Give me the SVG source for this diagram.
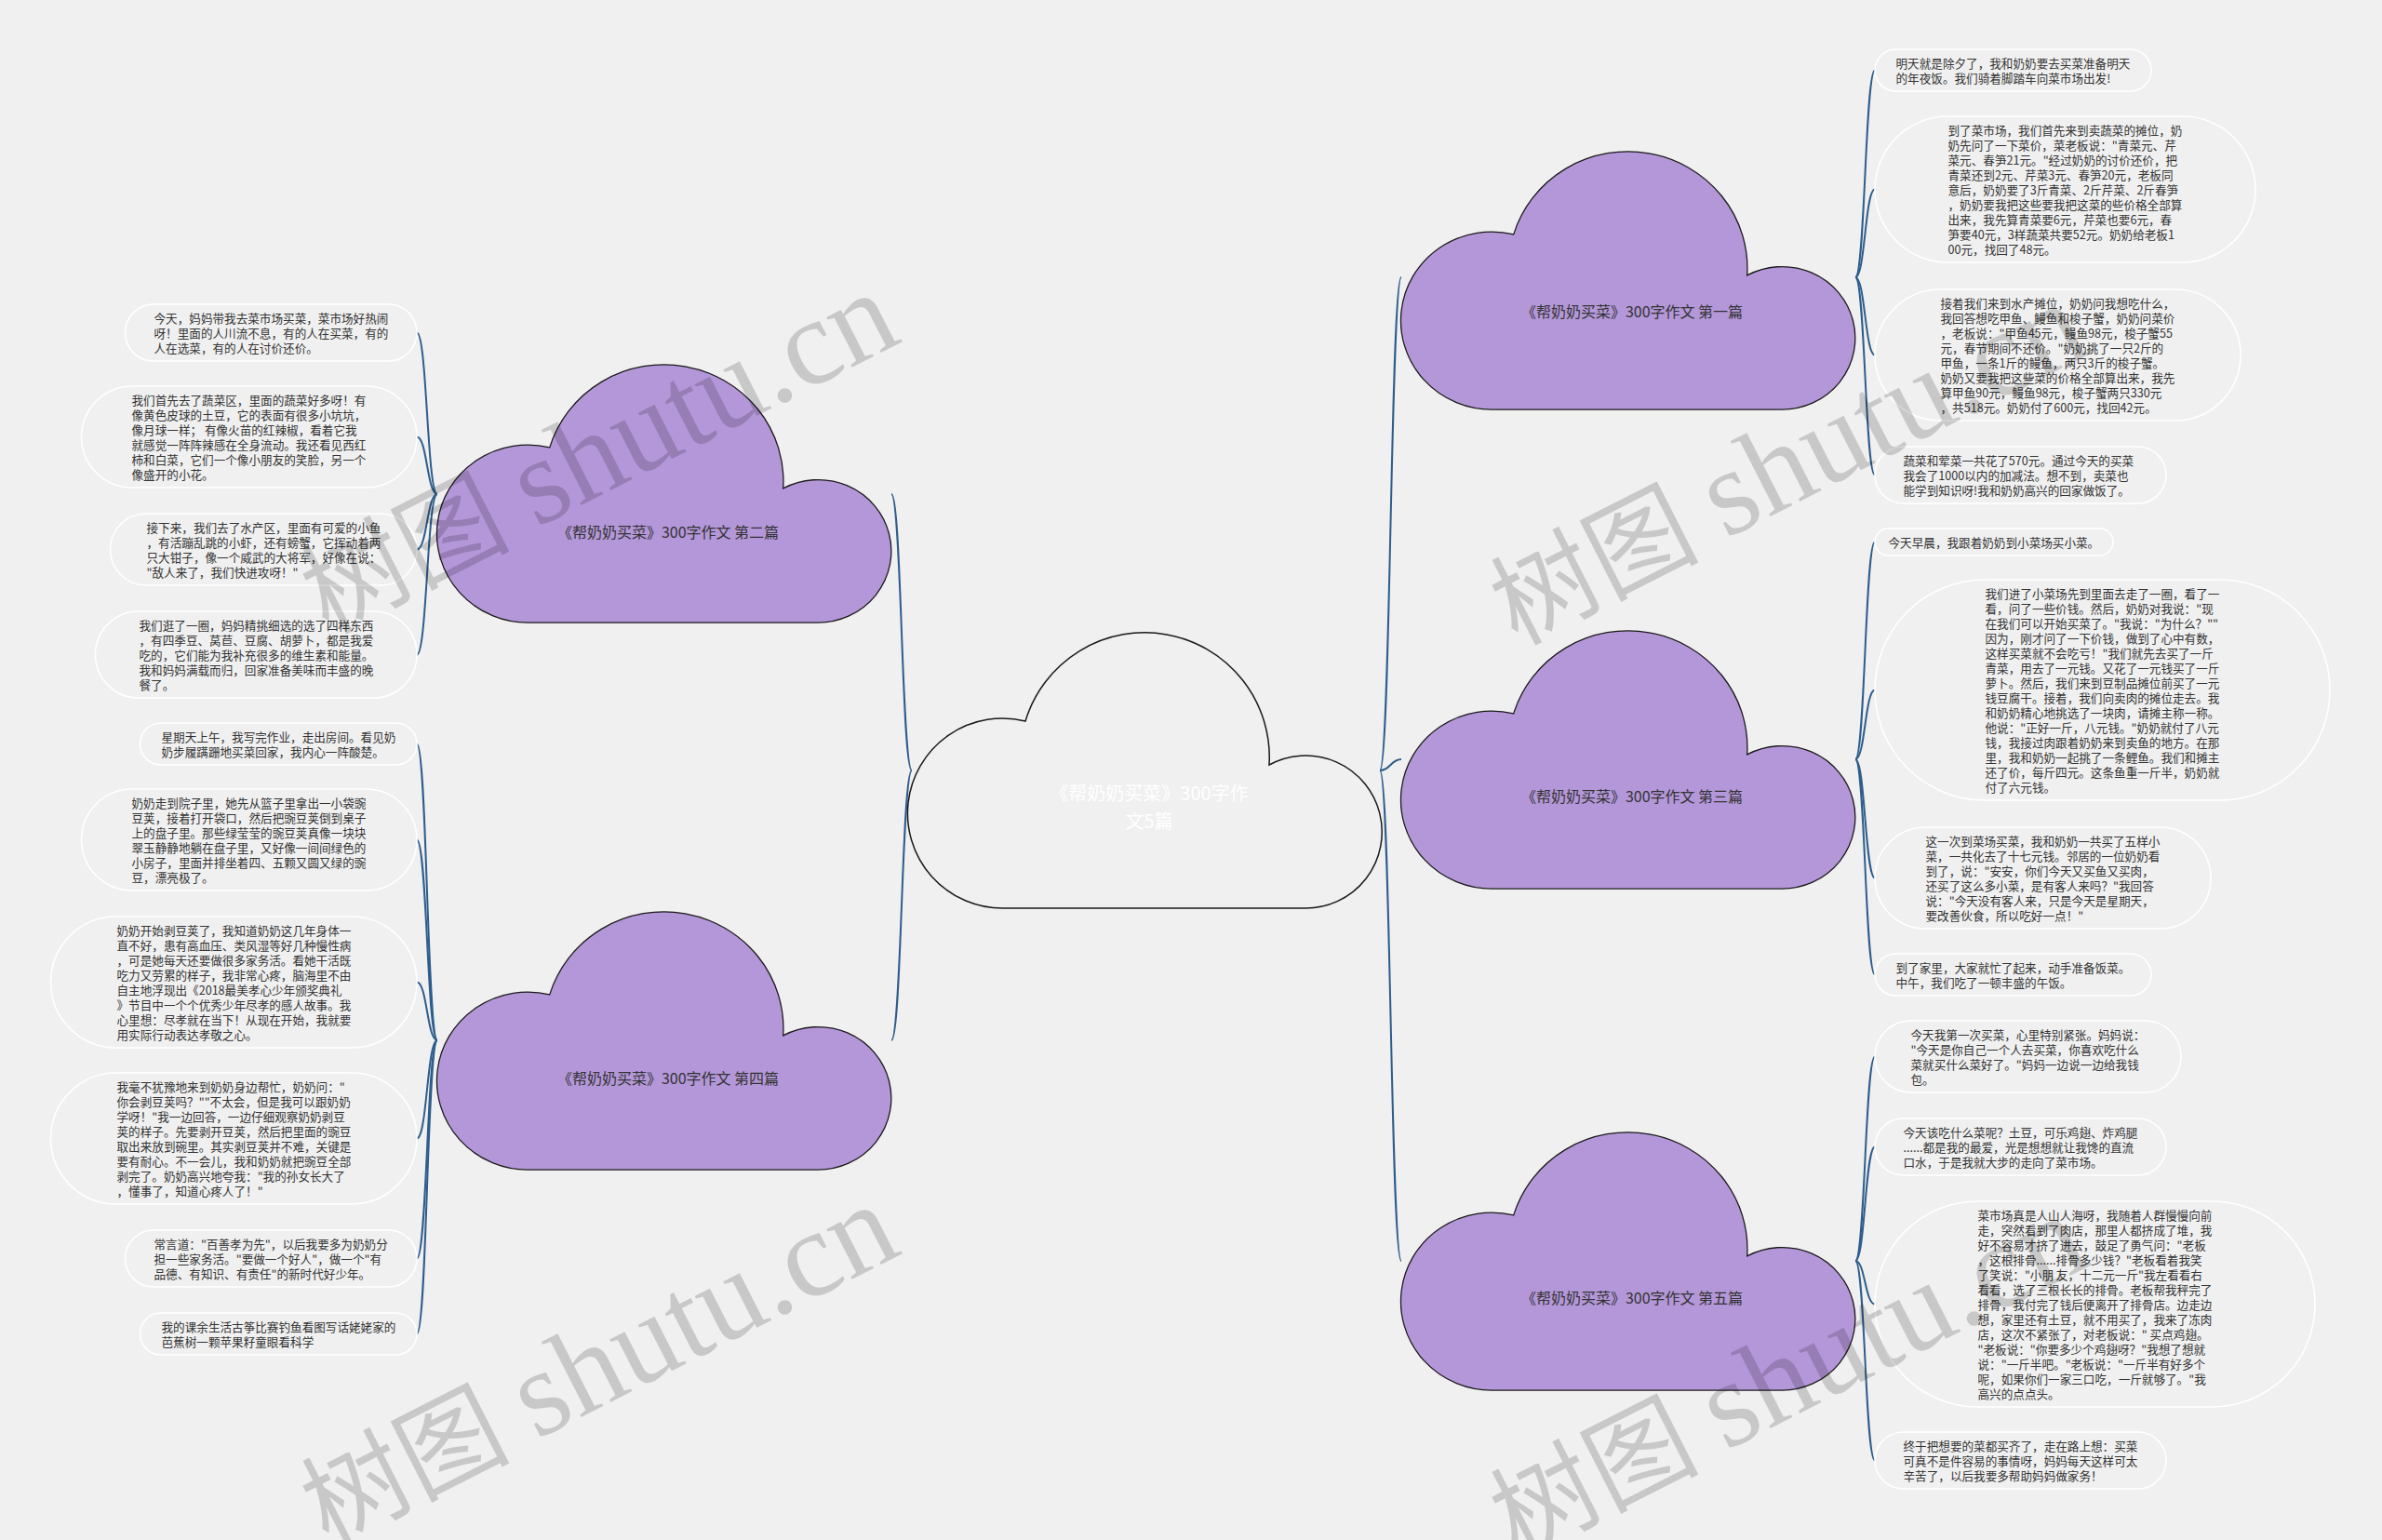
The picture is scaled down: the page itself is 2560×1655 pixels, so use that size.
<svg xmlns="http://www.w3.org/2000/svg" width="2560" height="1655" viewBox="0 0 2560 1655">
<style>
.bub{fill:none;stroke:#ffffff;stroke-width:1.6}
.t{font-family:"Noto Sans CJK SC","Liberation Sans",sans-serif;font-size:12.6px;fill:#333333}
.lnk{fill:none;stroke:#2e5d8c;stroke-width:2}
.pc{fill:#b497d9;stroke:#1a1a1a;stroke-width:1.3}
.cc{fill:#f0f0f0;stroke:#1a1a1a;stroke-width:1.5}
.ct{font-family:"Noto Sans CJK SC","Liberation Sans",sans-serif;font-size:20px;fill:#ffffff;text-anchor:middle}
.pt{font-family:"Noto Sans CJK SC","Liberation Sans",sans-serif;font-size:16px;fill:#333333;text-anchor:middle}
.wm{font-family:"Liberation Serif","Noto Sans CJK SC",serif;font-size:112px;fill:#000000;opacity:0.16}
.wl{font-size:132px}
</style>
<defs>
<path id="cloud" d="M102,296 A102,102 0 1 1 126,95 A134,134 0 0 1 388,142 A82,82 0 1 1 427,296 Z" vector-effect="non-scaling-stroke"/>
</defs>
<rect x="0" y="0" width="2560" height="1655" fill="#f0f0f0"/>

<g id="connectors">
<path class="lnk" d="M980,828 C969,828 969,531 958,531"/>
<path class="lnk" d="M980,828 C969,828 969,1118 958,1118"/>
<path class="lnk" d="M1483,828 C1494.5,828 1494.5,298 1506,298"/>
<path class="lnk" d="M1483,828 C1494.5,828 1494.5,816 1506,816"/>
<path class="lnk" d="M1483,828 C1494.5,828 1494.5,1355 1506,1355"/>
<path class="lnk" d="M470,531 C459,531 459,357.5 448,357.5"/>
<path class="lnk" d="M470,531 C459,531 459,469.5 448,469.5"/>
<path class="lnk" d="M470,531 C459,531 459,590.5 448,590.5"/>
<path class="lnk" d="M470,531 C459,531 459,703.5 448,703.5"/>
<path class="lnk" d="M470,1118 C459,1118 459,799.5 448,799.5"/>
<path class="lnk" d="M470,1118 C459,1118 459,902.5 448,902.5"/>
<path class="lnk" d="M470,1118 C459,1118 459,1055.5 448,1055.5"/>
<path class="lnk" d="M470,1118 C459,1118 459,1223.5 448,1223.5"/>
<path class="lnk" d="M470,1118 C459,1118 459,1352.5 448,1352.5"/>
<path class="lnk" d="M470,1118 C459,1118 459,1433.5 448,1433.5"/>
<path class="lnk" d="M1994,298 C2004.5,298 2004.5,75.5 2015,75.5"/>
<path class="lnk" d="M1994,298 C2004.5,298 2004.5,203.5 2015,203.5"/>
<path class="lnk" d="M1994,298 C2004.5,298 2004.5,381.5 2015,381.5"/>
<path class="lnk" d="M1994,298 C2004.5,298 2004.5,510.5 2015,510.5"/>
<path class="lnk" d="M1994,816 C2004.5,816 2004.5,582.5 2015,582.5"/>
<path class="lnk" d="M1994,816 C2004.5,816 2004.5,741.5 2015,741.5"/>
<path class="lnk" d="M1994,816 C2004.5,816 2004.5,943.5 2015,943.5"/>
<path class="lnk" d="M1994,816 C2004.5,816 2004.5,1047.5 2015,1047.5"/>
<path class="lnk" d="M1994,1355 C2004.5,1355 2004.5,1135.5 2015,1135.5"/>
<path class="lnk" d="M1994,1355 C2004.5,1355 2004.5,1232.5 2015,1232.5"/>
<path class="lnk" d="M1994,1355 C2004.5,1355 2004.5,1401.5 2015,1401.5"/>
<path class="lnk" d="M1994,1355 C2004.5,1355 2004.5,1569.5 2015,1569.5"/>
</g>

<g id="root">
<use href="#cloud" class="cc" transform="translate(976,680)"/>
<text class="ct" x="1235" y="860">《帮奶奶买菜》300字作</text>
<text class="ct" x="1235" y="890">文5篇</text>
</g>

<g id="n2">
<use href="#cloud" class="pc" transform="translate(470,392) scale(0.958,0.936)"/>
<text class="pt" x="718" y="578">《帮奶奶买菜》300字作文 第二篇</text>
</g>
<g id="n4">
<use href="#cloud" class="pc" transform="translate(470,980) scale(0.958,0.936)"/>
<text class="pt" x="718" y="1165">《帮奶奶买菜》300字作文 第四篇</text>
</g>
<g id="n1">
<use href="#cloud" class="pc" transform="translate(1506,163) scale(0.958,0.936)"/>
<text class="pt" x="1754" y="341">《帮奶奶买菜》300字作文 第一篇</text>
</g>
<g id="n3">
<use href="#cloud" class="pc" transform="translate(1506,678) scale(0.958,0.936)"/>
<text class="pt" x="1754" y="862">《帮奶奶买菜》300字作文 第三篇</text>
</g>
<g id="n5">
<use href="#cloud" class="pc" transform="translate(1506,1217) scale(0.958,0.936)"/>
<text class="pt" x="1754" y="1401">《帮奶奶买菜》300字作文 第五篇</text>
</g>

<g id="a1"><rect class="bub" x="134.5" y="327" width="313.5" height="61" rx="30.5" ry="30.5"/>
<text class="t" y="346.5"><tspan x="165.5">今天，妈妈带我去菜市场买菜，菜市场好热闹</tspan><tspan x="165.5" dy="16">呀！里面的人川流不息，有的人在买菜，有的</tspan><tspan x="165.5" dy="16">人在选菜，有的人在讨价还价。</tspan></text></g>

<g id="a2"><rect class="bub" x="87.5" y="415" width="360.5" height="109" rx="54.5" ry="54.5"/>
<text class="t" y="434.5"><tspan x="141.5">我们首先去了蔬菜区，里面的蔬菜好多呀！有</tspan><tspan x="141.5" dy="16">像黄色皮球的土豆，它的表面有很多小坑坑，</tspan><tspan x="141.5" dy="16">像月球一样； 有像火苗的红辣椒，看着它我</tspan><tspan x="141.5" dy="16">就感觉一阵阵辣感在全身流动。我还看见西红</tspan><tspan x="141.5" dy="16">柿和白菜，它们一个像小朋友的笑脸，另一个</tspan><tspan x="141.5" dy="16">像盛开的小花。</tspan></text></g>

<g id="a3"><rect class="bub" x="118.5" y="552" width="329.5" height="77" rx="38.5" ry="38.5"/>
<text class="t" y="571.5"><tspan x="157.5">接下来，我们去了水产区，里面有可爱的小鱼</tspan><tspan x="157.5" dy="16">，有活蹦乱跳的小虾，还有螃蟹，它挥动着两</tspan><tspan x="157.5" dy="16">只大钳子，像一个威武的大将军，好像在说：</tspan><tspan x="157.5" dy="16">"敌人来了，我们快进攻呀！"</tspan></text></g>

<g id="a4"><rect class="bub" x="102.5" y="657" width="345.5" height="93" rx="46.5" ry="46.5"/>
<text class="t" y="676.5"><tspan x="149.5">我们逛了一圈，妈妈精挑细选的选了四样东西</tspan><tspan x="149.5" dy="16">，有四季豆、莴苣、豆腐、胡萝卜，都是我爱</tspan><tspan x="149.5" dy="16">吃的，它们能为我补充很多的维生素和能量。</tspan><tspan x="149.5" dy="16">我和妈妈满载而归，回家准备美味而丰盛的晚</tspan><tspan x="149.5" dy="16">餐了。</tspan></text></g>

<g id="a5"><rect class="bub" x="150.5" y="777" width="297.5" height="45" rx="22.5" ry="22.5"/>
<text class="t" y="796.5"><tspan x="173.5">星期天上午，我写完作业，走出房间。看见奶</tspan><tspan x="173.5" dy="16">奶步履蹒跚地买菜回家，我内心一阵酸楚。</tspan></text></g>

<g id="a6"><rect class="bub" x="87.5" y="848" width="360.5" height="109" rx="54.5" ry="54.5"/>
<text class="t" y="867.5"><tspan x="141.5">奶奶走到院子里，她先从篮子里拿出一小袋豌</tspan><tspan x="141.5" dy="16">豆荚，接着打开袋口，然后把豌豆荚倒到桌子</tspan><tspan x="141.5" dy="16">上的盘子里。那些绿莹莹的豌豆荚真像一块块</tspan><tspan x="141.5" dy="16">翠玉静静地躺在盘子里，又好像一间间绿色的</tspan><tspan x="141.5" dy="16">小房子，里面并排坐着四、五颗又圆又绿的豌</tspan><tspan x="141.5" dy="16">豆，漂亮极了。</tspan></text></g>

<g id="a7"><rect class="bub" x="54.5" y="985" width="393.5" height="141" rx="70.5" ry="70.5"/>
<text class="t" y="1004.5"><tspan x="125.5">奶奶开始剥豆荚了，我知道奶奶这几年身体一</tspan><tspan x="125.5" dy="16">直不好，患有高血压、类风湿等好几种慢性病</tspan><tspan x="125.5" dy="16">，可是她每天还要做很多家务活。看她干活既</tspan><tspan x="125.5" dy="16">吃力又劳累的样子，我非常心疼，脑海里不由</tspan><tspan x="125.5" dy="16">自主地浮现出《2018最美孝心少年颁奖典礼</tspan><tspan x="125.5" dy="16">》节目中一个个优秀少年尽孝的感人故事。我</tspan><tspan x="125.5" dy="16">心里想：尽孝就在当下！从现在开始，我就要</tspan><tspan x="125.5" dy="16">用实际行动表达孝敬之心。</tspan></text></g>

<g id="a8"><rect class="bub" x="54.5" y="1153" width="393.5" height="141" rx="70.5" ry="70.5"/>
<text class="t" y="1172.5"><tspan x="125.5">我毫不犹豫地来到奶奶身边帮忙，奶奶问："</tspan><tspan x="125.5" dy="16">你会剥豆荚吗？""不太会，但是我可以跟奶奶</tspan><tspan x="125.5" dy="16">学呀！"我一边回答，一边仔细观察奶奶剥豆</tspan><tspan x="125.5" dy="16">荚的样子。先要剥开豆荚，然后把里面的豌豆</tspan><tspan x="125.5" dy="16">取出来放到碗里。其实剥豆荚并不难，关键是</tspan><tspan x="125.5" dy="16">要有耐心。不一会儿，我和奶奶就把豌豆全部</tspan><tspan x="125.5" dy="16">剥完了。奶奶高兴地夸我："我的孙女长大了</tspan><tspan x="125.5" dy="16">，懂事了，知道心疼人了！"</tspan></text></g>

<g id="a9"><rect class="bub" x="134.5" y="1322" width="313.5" height="61" rx="30.5" ry="30.5"/>
<text class="t" y="1341.5"><tspan x="165.5">常言道："百善孝为先"，以后我要多为奶奶分</tspan><tspan x="165.5" dy="16">担一些家务活。"要做一个好人"，做一个"有</tspan><tspan x="165.5" dy="16">品德、有知识、有责任"的新时代好少年。</tspan></text></g>

<g id="a10"><rect class="bub" x="150.5" y="1411" width="297.5" height="45" rx="22.5" ry="22.5"/>
<text class="t" y="1430.5"><tspan x="173.5">我的课余生活古筝比赛钓鱼看图写话姥姥家的</tspan><tspan x="173.5" dy="16">芭蕉树一颗苹果籽童眼看科学</tspan></text></g>

<g id="b1"><rect class="bub" x="2015" y="53" width="297" height="45" rx="22.5" ry="22.5"/>
<text class="t" y="72.5"><tspan x="2037.5">明天就是除夕了，我和奶奶要去买菜准备明天</tspan><tspan x="2037.5" dy="16">的年夜饭。我们骑着脚踏车向菜市场出发!</tspan></text></g>

<g id="b2"><rect class="bub" x="2015" y="125" width="409" height="157" rx="78.5" ry="78.5"/>
<text class="t" y="144.5"><tspan x="2093.5">到了菜市场，我们首先来到卖蔬菜的摊位，奶</tspan><tspan x="2093.5" dy="16">奶先问了一下菜价，菜老板说："青菜元、芹</tspan><tspan x="2093.5" dy="16">菜元、春笋21元。"经过奶奶的讨价还价，把</tspan><tspan x="2093.5" dy="16">青菜还到2元、芹菜3元、春笋20元，老板同</tspan><tspan x="2093.5" dy="16">意后，奶奶要了3斤青菜、2斤芹菜、2斤春笋</tspan><tspan x="2093.5" dy="16">，奶奶要我把这些要我把这菜的些价格全部算</tspan><tspan x="2093.5" dy="16">出来，我先算青菜要6元，芹菜也要6元，春</tspan><tspan x="2093.5" dy="16">笋要40元，3样蔬菜共要52元。奶奶给老板1</tspan><tspan x="2093.5" dy="16">00元，找回了48元。</tspan></text></g>

<g id="b3"><rect class="bub" x="2015" y="311" width="393" height="141" rx="70.5" ry="70.5"/>
<text class="t" y="330.5"><tspan x="2085.5">接着我们来到水产摊位，奶奶问我想吃什么，</tspan><tspan x="2085.5" dy="16">我回答想吃甲鱼、鳗鱼和梭子蟹，奶奶问菜价</tspan><tspan x="2085.5" dy="16">，老板说："甲鱼45元，鳗鱼98元，梭子蟹55</tspan><tspan x="2085.5" dy="16">元，春节期间不还价。"奶奶挑了一只2斤的</tspan><tspan x="2085.5" dy="16">甲鱼，一条1斤的鳗鱼，两只3斤的梭子蟹。</tspan><tspan x="2085.5" dy="16">奶奶又要我把这些菜的价格全部算出来，我先</tspan><tspan x="2085.5" dy="16">算甲鱼90元，鳗鱼98元，梭子蟹两只330元</tspan><tspan x="2085.5" dy="16">，共518元。奶奶付了600元，找回42元。</tspan></text></g>

<g id="b4"><rect class="bub" x="2015" y="480" width="313" height="61" rx="30.5" ry="30.5"/>
<text class="t" y="499.5"><tspan x="2045.5">蔬菜和荤菜一共花了570元。通过今天的买菜</tspan><tspan x="2045.5" dy="16">我会了1000以内的加减法。想不到，卖菜也</tspan><tspan x="2045.5" dy="16">能学到知识呀!我和奶奶高兴的回家做饭了。</tspan></text></g>

<g id="b5"><rect class="bub" x="2015" y="568" width="256" height="29" rx="14.5" ry="14.5"/>
<text class="t" y="587.5"><tspan x="2029.5">今天早晨，我跟着奶奶到小菜场买小菜。</tspan></text></g>

<g id="b6"><rect class="bub" x="2015" y="623" width="489" height="237" rx="118.5" ry="118.5"/>
<text class="t" y="642.5"><tspan x="2133.5">我们进了小菜场先到里面去走了一圈，看了一</tspan><tspan x="2133.5" dy="16">看，问了一些价钱。然后，奶奶对我说："现</tspan><tspan x="2133.5" dy="16">在我们可以开始买菜了。"我说："为什么？""</tspan><tspan x="2133.5" dy="16">因为，刚才问了一下价钱，做到了心中有数，</tspan><tspan x="2133.5" dy="16">这样买菜就不会吃亏！"我们就先去买了一斤</tspan><tspan x="2133.5" dy="16">青菜，用去了一元钱。又花了一元钱买了一斤</tspan><tspan x="2133.5" dy="16">萝卜。然后，我们来到豆制品摊位前买了一元</tspan><tspan x="2133.5" dy="16">钱豆腐干。接着，我们向卖肉的摊位走去。我</tspan><tspan x="2133.5" dy="16">和奶奶精心地挑选了一块肉，请摊主称一称。</tspan><tspan x="2133.5" dy="16">他说："正好一斤，八元钱。"奶奶就付了八元</tspan><tspan x="2133.5" dy="16">钱，我接过肉跟着奶奶来到卖鱼的地方。在那</tspan><tspan x="2133.5" dy="16">里，我和奶奶一起挑了一条鲤鱼。我们和摊主</tspan><tspan x="2133.5" dy="16">还了价，每斤四元。这条鱼重一斤半，奶奶就</tspan><tspan x="2133.5" dy="16">付了六元钱。</tspan></text></g>

<g id="b7"><rect class="bub" x="2015" y="889" width="361" height="109" rx="54.5" ry="54.5"/>
<text class="t" y="908.5"><tspan x="2069.5">这一次到菜场买菜，我和奶奶一共买了五样小</tspan><tspan x="2069.5" dy="16">菜，一共化去了十七元钱。邻居的一位奶奶看</tspan><tspan x="2069.5" dy="16">到了，说："安安，你们今天又买鱼又买肉，</tspan><tspan x="2069.5" dy="16">还买了这么多小菜，是有客人来吗？"我回答</tspan><tspan x="2069.5" dy="16">说："今天没有客人来，只是今天是星期天，</tspan><tspan x="2069.5" dy="16">要改善伙食，所以吃好一点！"</tspan></text></g>

<g id="b8"><rect class="bub" x="2015" y="1025" width="297" height="45" rx="22.5" ry="22.5"/>
<text class="t" y="1044.5"><tspan x="2037.5">到了家里，大家就忙了起来，动手准备饭菜。</tspan><tspan x="2037.5" dy="16">中午，我们吃了一顿丰盛的午饭。</tspan></text></g>

<g id="b9"><rect class="bub" x="2015" y="1097" width="329" height="77" rx="38.5" ry="38.5"/>
<text class="t" y="1116.5"><tspan x="2053.5">今天我第一次买菜，心里特别紧张。妈妈说：</tspan><tspan x="2053.5" dy="16">"今天是你自己一个人去买菜，你喜欢吃什么</tspan><tspan x="2053.5" dy="16">菜就买什么菜好了。"妈妈一边说一边给我钱</tspan><tspan x="2053.5" dy="16">包。</tspan></text></g>

<g id="b10"><rect class="bub" x="2015" y="1202" width="313" height="61" rx="30.5" ry="30.5"/>
<text class="t" y="1221.5"><tspan x="2045.5">今天该吃什么菜呢？土豆，可乐鸡翅、炸鸡腿</tspan><tspan x="2045.5" dy="16">......都是我的最爱，光是想想就让我馋的直流</tspan><tspan x="2045.5" dy="16">口水，于是我就大步的走向了菜市场。</tspan></text></g>

<g id="b11"><rect class="bub" x="2015" y="1291" width="473" height="221" rx="110.5" ry="110.5"/>
<text class="t" y="1310.5"><tspan x="2125.5">菜市场真是人山人海呀，我随着人群慢慢向前</tspan><tspan x="2125.5" dy="16">走，突然看到了肉店，那里人都挤成了堆，我</tspan><tspan x="2125.5" dy="16">好不容易才挤了进去，鼓足了勇气问："老板</tspan><tspan x="2125.5" dy="16">，这根排骨......排骨多少钱？"老板看着我笑</tspan><tspan x="2125.5" dy="16">了笑说："小朋 友，十二元一斤"我左看看右</tspan><tspan x="2125.5" dy="16">看看，选了三根长长的排骨。老板帮我秤完了</tspan><tspan x="2125.5" dy="16">排骨，我付完了钱后便离开了排骨店。边走边</tspan><tspan x="2125.5" dy="16">想，家里还有土豆，就不用买了，我来了冻肉</tspan><tspan x="2125.5" dy="16">店，这次不紧张了，对老板说：" 买点鸡翅。</tspan><tspan x="2125.5" dy="16">"老板说："你要多少个鸡翅呀？"我想了想就</tspan><tspan x="2125.5" dy="16">说："一斤半吧。"老板说："一斤半有好多个</tspan><tspan x="2125.5" dy="16">呢，如果你们一家三口吃，一斤就够了。"我</tspan><tspan x="2125.5" dy="16">高兴的点点头。</tspan></text></g>

<g id="b12"><rect class="bub" x="2015" y="1539" width="313" height="61" rx="30.5" ry="30.5"/>
<text class="t" y="1558.5"><tspan x="2045.5">终于把想要的菜都买齐了，走在路上想：买菜</tspan><tspan x="2045.5" dy="16">可真不是件容易的事情呀，妈妈每天这样可太</tspan><tspan x="2045.5" dy="16">辛苦了，以后我要多帮助妈妈做家务！</tspan></text></g>

<g id="watermark">
<text class="wm" transform="translate(352,682) rotate(-27)">树图 <tspan class="wl">shutu.cn</tspan></text>
<text class="wm" transform="translate(1630,694) rotate(-27)">树图 <tspan class="wl">shutu.cn</tspan></text>
<text class="wm" transform="translate(352,1662) rotate(-27)">树图 <tspan class="wl">shutu.cn</tspan></text>
<text class="wm" transform="translate(1630,1674) rotate(-27)">树图 <tspan class="wl">shutu.cn</tspan></text>
</g>
</svg>
